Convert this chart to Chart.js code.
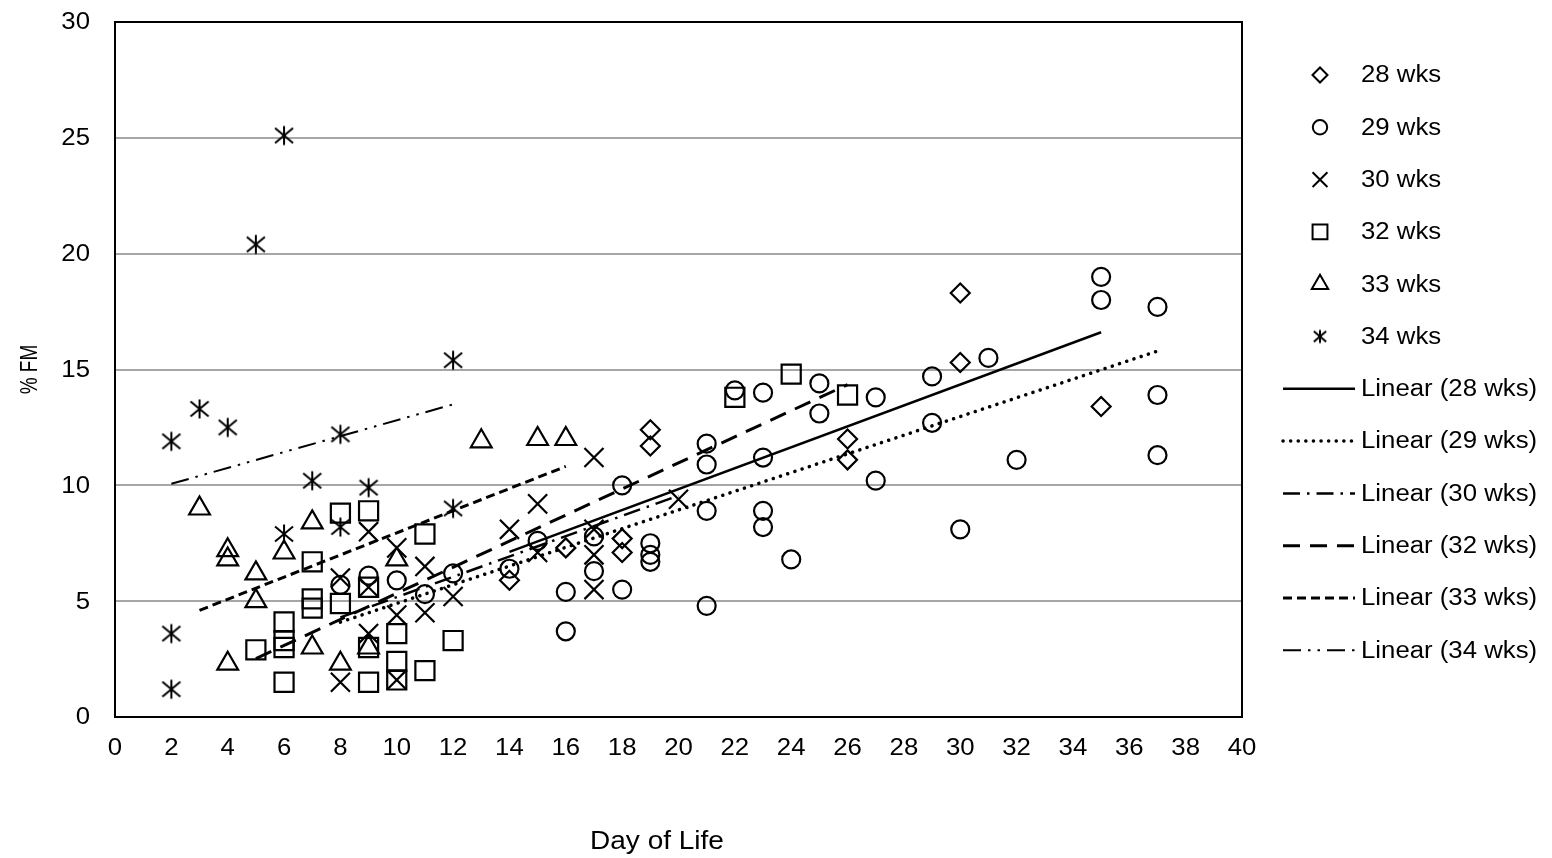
<!DOCTYPE html>
<html>
<head>
<meta charset="utf-8">
<title>% FM by Day of Life</title>
<script src="https://cdn.jsdelivr.net/npm/chart.js@4.4.0/dist/chart.umd.min.js"></script>
<style>
html, body { margin: 0; padding: 0; background: #fff; }
#wrap { width: 1552px; height: 858px; }
</style>
</head>
<body>
<div id="wrap"><canvas id="canvas" width="1552" height="858"></canvas></div>
<script>
// values
var xTicks = [0, 2, 4, 6, 8, 10, 12, 14, 16, 18, 20, 22, 24, 26, 28, 30, 32, 34, 36, 38, 40];
var yTicks = [0, 5, 10, 15, 20, 25, 30];

var wk28X = [14, 16, 18, 18, 19, 19, 26, 26, 30, 30, 35];
var wk28Y = [5.9, 7.3, 7.7, 7.1, 12.4, 11.7, 12.0, 11.1, 18.3, 15.3, 13.4];

var wk29X = [8, 9, 10, 11, 12, 14, 15, 16, 16, 17, 17, 18, 18, 19, 19, 19, 21, 21, 21, 21,
             22, 23, 23, 23, 23, 24, 25, 25, 27, 27, 29, 29, 30, 31, 32, 35, 35, 37, 37, 37];
var wk29Y = [5.7, 6.1, 5.9, 5.3, 6.2, 6.4, 7.6, 5.4, 3.7, 7.8, 6.3, 10.0, 5.5, 7.5, 7.0, 6.7, 11.8, 10.9, 8.9, 4.8,
             14.1, 14.0, 11.2, 8.9, 8.2, 6.8, 14.4, 13.1, 13.8, 10.2, 14.7, 12.7, 8.1, 15.5, 11.1, 19.0, 18.0, 17.7, 13.9, 11.3];

var wk30X = [8, 8, 9, 9, 9, 10, 10, 10, 11, 11, 12, 14, 15, 15, 17, 17, 17, 17, 20];
var wk30Y = [6.0, 1.5, 8.0, 5.6, 3.6, 7.3, 4.4, 1.6, 6.5, 4.5, 5.2, 8.1, 9.2, 7.1, 11.2, 8.1, 7.0, 5.5, 9.4];

var wk32X = [5, 6, 6, 6, 6, 7, 7, 7, 8, 8, 9, 9, 9, 9, 10, 10, 10, 11, 11, 12, 22, 24, 26];
var wk32Y = [2.9, 4.1, 3.3, 3.0, 1.5, 6.7, 5.1, 4.7, 8.8, 4.9, 8.9, 5.6, 3.0, 1.5, 3.6, 2.4, 1.6, 7.9, 2.0, 3.3, 13.8, 14.8, 13.9];

var wk33X = [3, 4, 4, 4, 5, 5, 6, 7, 7, 8, 9, 10, 13, 15, 16];
var wk33Y = [9.0, 7.2, 6.8, 2.3, 6.2, 5.0, 7.1, 8.4, 3.0, 2.3, 3.0, 6.8, 11.9, 12.0, 12.0];

var wk34X = [2, 2, 2, 3, 4, 5, 6, 6, 7, 8, 8, 9, 12, 12];
var wk34Y = [11.9, 3.6, 1.2, 13.3, 12.5, 20.4, 25.1, 7.9, 10.2, 12.2, 8.2, 9.9, 15.4, 9.0];

var groupNames = ['28 wks', '29 wks', '30 wks', '32 wks', '33 wks', '34 wks'];

var FONT = '"Liberation Sans", Arial, sans-serif';
var STRETCH = 1.12; // the text in the picture is a little wide

function pts(xs, ys) {
    return xs.map(function (x, i) { return { x: x, y: ys[i] }; });
}

// least squares fit over the x range of the group (like Excel's linear trendline)
function trend(xs, ys) {
    var n = xs.length, mx = 0, my = 0, sxy = 0, sxx = 0;
    for (var i = 0; i < n; i++) { mx += xs[i]; my += ys[i]; }
    mx /= n; my /= n;
    for (var j = 0; j < n; j++) {
        sxy += (xs[j] - mx) * (ys[j] - my);
        sxx += (xs[j] - mx) * (xs[j] - mx);
    }
    var b = sxy / sxx, a = my - b * mx;
    var lo = Math.min.apply(null, xs), hi = Math.max.apply(null, xs);
    return [{ x: lo, y: a + b * lo }, { x: hi, y: a + b * hi }];
}

// excel style asterisk: an X with a vertical bar
function makeAsterisk(size, lw) {
    var c = document.createElement('canvas');
    c.width = size; c.height = size;
    var g = c.getContext('2d');
    var h = size / 2, r = h - lw / 2 - 0.5;
    g.strokeStyle = '#000';
    g.lineWidth = lw;
    g.beginPath();
    g.moveTo(h, h - r); g.lineTo(h, h + r);
    g.moveTo(h - r * 0.95, h - r * 0.8); g.lineTo(h + r * 0.95, h + r * 0.8);
    g.moveTo(h + r * 0.95, h - r * 0.8); g.lineTo(h - r * 0.95, h + r * 0.8);
    g.stroke();
    return c;
}

var asterisk = makeAsterisk(22, 2);
var asteriskSmall = makeAsterisk(16, 2);

var groups = [
    { xs: wk28X, ys: wk28Y, style: 'rectRot', r: 9.5, lr: 7.5, dash: [], cap: 'butt', lw: 2.5 },
    { xs: wk29X, ys: wk29Y, style: 'circle', r: 9, lr: 7.2, dash: [0.1, 7.5], cap: 'round', lw: 3.5 },
    { xs: wk30X, ys: wk30Y, style: 'crossRot', r: 13.5, lr: 10.5, dash: [17, 7, 2.5, 7], cap: 'butt', lw: 2.5 },
    { xs: wk32X, ys: wk32Y, style: 'rect', r: 13.5, lr: 10.5, dash: [17, 10], cap: 'butt', lw: 3 },
    { xs: wk33X, ys: wk33Y, style: 'triangle', r: 12, lr: 9.5, dash: [9, 5], cap: 'butt', lw: 3 },
    { xs: wk34X, ys: wk34Y, style: asterisk, legendStyle: asteriskSmall, r: 10, lr: 8, dash: [18, 7, 2.5, 7, 2.5, 7], cap: 'butt', lw: 2 }
];

var datasets = [];
groups.forEach(function (g, i) {
    datasets.push({
        label: groupNames[i],
        data: pts(g.xs, g.ys),
        pointStyle: g.style,
        pointRadius: g.r,
        pointHoverRadius: g.r,
        pointBorderWidth: 2.2,
        pointBorderColor: '#000',
        pointBackgroundColor: 'rgba(0,0,0,0)',
        showLine: false,
        legendMarker: g.legendStyle || g.style,
        legendRadius: g.lr
    });
});
groups.forEach(function (g, i) {
    datasets.push({
        label: 'Linear (' + groupNames[i] + ')',
        data: trend(g.xs, g.ys),
        showLine: true,
        pointRadius: 0,
        pointHoverRadius: 0,
        borderColor: '#000',
        borderWidth: g.lw,
        borderDash: g.dash,
        borderCapStyle: g.cap,
        fill: false,
        isTrend: true
    });
});

function wideText(ctx, text, x, y, align, size) {
    ctx.save();
    ctx.translate(x, y);
    ctx.scale(STRETCH, 1);
    ctx.font = size + 'px ' + FONT;
    ctx.textAlign = align;
    ctx.textBaseline = 'middle';
    ctx.fillStyle = '#000';
    ctx.fillText(text, 0, 0);
    ctx.restore();
}

var framePlugin = {
    id: 'frame',
    beforeDatasetsDraw: function (chart) {
        var a = chart.chartArea, ctx = chart.ctx;
        ctx.save();
        ctx.strokeStyle = '#000';
        ctx.lineWidth = 2;
        ctx.strokeRect(a.left, a.top, a.right - a.left, a.bottom - a.top);
        ctx.restore();
    },
    afterDraw: function (chart) {
        var ctx = chart.ctx, xs = chart.scales.x, ys = chart.scales.y;
        // tick labels, placed by the scales
        xTicks.forEach(function (v) {
            wideText(ctx, String(v), xs.getPixelForValue(v), 749, 'center', 23);
        });
        yTicks.forEach(function (v) {
            wideText(ctx, String(v), 90, ys.getPixelForValue(v) + 1, 'right', 23);
        });
        // axis titles
        wideText(ctx, 'Day of Life', 657, 842, 'center', 25);
        ctx.save();
        ctx.translate(30, (chart.chartArea.top + chart.chartArea.bottom) / 2);
        ctx.rotate(-Math.PI / 2);
        ctx.scale(1, 1.28);
        ctx.font = '19px ' + FONT;
        ctx.textAlign = 'center';
        ctx.textBaseline = 'middle';
        ctx.fillStyle = '#000';
        ctx.fillText('% FM', 0, 0);
        ctx.restore();
    }
};

var sideLegend = {
    id: 'sideLegend',
    afterDraw: function (chart) {
        var ctx = chart.ctx;
        chart.data.datasets.forEach(function (ds, i) {
            var y = 75 + i * 52.3;
            ctx.save();
            ctx.strokeStyle = '#000';
            if (ds.isTrend) {
                ctx.lineWidth = ds.borderWidth;
                ctx.lineCap = ds.borderCapStyle;
                ctx.setLineDash(ds.borderDash);
                ctx.beginPath();
                ctx.moveTo(1283, y);
                ctx.lineTo(1355, y);
                ctx.stroke();
            } else {
                ctx.lineWidth = 2;
                ctx.fillStyle = 'rgba(0,0,0,0)';
                Chart.helpers.drawPoint(ctx, {
                    pointStyle: ds.legendMarker,
                    radius: ds.legendRadius,
                    borderWidth: 2,
                    rotation: 0
                }, 1320, y);
            }
            ctx.restore();
            wideText(ctx, ds.label, 1361, y + 1, 'left', 23);
        });
    }
};

var ctx = document.getElementById('canvas').getContext('2d');
var myChart = new Chart(ctx, {
    type: 'scatter',
    data: { datasets: datasets },
    options: {
        responsive: false,
        animation: false,
        events: [],
        layout: { padding: { left: 0, top: 22, right: 310, bottom: 0 } },
        plugins: {
            legend: { display: false },
            tooltip: { enabled: false }
        },
        scales: {
            x: {
                type: 'linear',
                min: 0,
                max: 40,
                afterBuildTicks: function (scale) {
                    scale.ticks = xTicks.map(function (v) { return { value: v }; });
                },
                afterFit: function (scale) { scale.height = 141; },
                grid: { display: false, drawTicks: false },
                border: { display: false },
                ticks: { display: false }
            },
            y: {
                type: 'linear',
                min: 0,
                max: 30,
                afterBuildTicks: function (scale) {
                    scale.ticks = yTicks.map(function (v) { return { value: v }; });
                },
                afterFit: function (scale) { scale.width = 115; },
                grid: { color: '#a6a6a6', lineWidth: 2, drawTicks: false },
                border: { display: false },
                ticks: { display: false }
            }
        }
    },
    plugins: [framePlugin, sideLegend]
});
</script>
</body>
</html>
